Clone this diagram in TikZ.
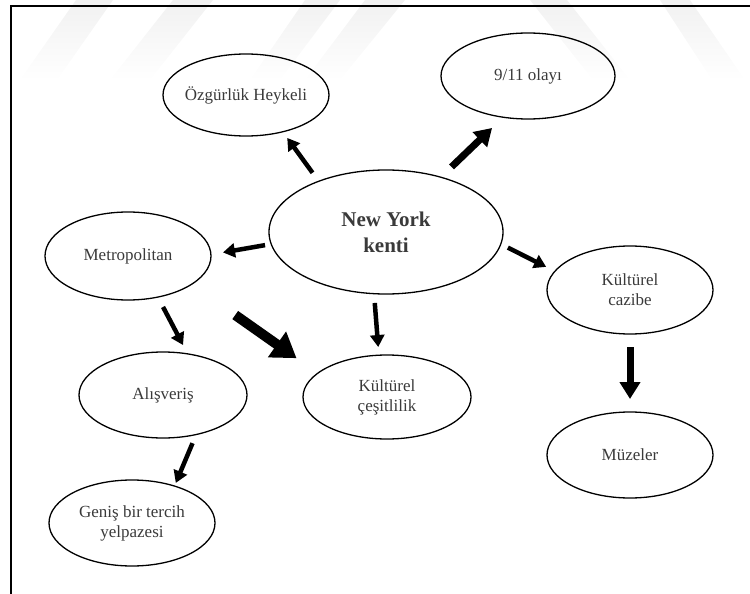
\documentclass[tikz,border=0pt]{standalone}
\usepackage{fontspec}
\setmainfont{Liberation Serif}
\usetikzlibrary{arrows.meta,shapes.geometric}
\definecolor{inktext}{HTML}{3A3A3A}
\begin{document}
\begin{tikzpicture}[x=1pt,y=-1pt,
  bubble/.style={ellipse, draw=black, line width=1.3pt, inner xsep=-30pt,
    inner ysep=0pt, outer sep=0pt, text=inktext, align=center,
    font=\fontsize{17}{20}\selectfont},
  hub/.style={bubble, font=\fontsize{21}{26}\selectfont\bfseries},
  arrthin/.style={line width=4.5pt, -{Triangle[length=12pt,width=14pt]}},
  arrmid/.style={line width=7pt, -{Triangle[length=17pt,width=20pt]}},
  arrheavy/.style={line width=10pt, -{Triangle[length=24pt,width=30pt]}},
  stripe/.style={top color=gray!11, bottom color=white, draw=none}]
\useasboundingbox (0,0) rectangle (750,594);

% faint background stripes along the top edge
\shade[stripe] (20,80) -- (57,80) -- (113,0) -- (76,0) -- cycle;
\shade[stripe] (110,80) -- (150,80) -- (213,0) -- (173,0) -- cycle;
\shade[stripe] (250,80) -- (280,80) -- (340,0) -- (305,0) -- cycle;
\shade[stripe] (305,80) -- (340,80) -- (405,0) -- (365,0) -- cycle;
\shade[stripe] (530,0) -- (567,0) -- (630,80) -- (593,80) -- cycle;
\shade[stripe] (660,0) -- (690,0) -- (745,80) -- (712,80) -- cycle;

% frame
\draw[line width=2pt] (752,6) -- (11,6) -- (11,596);

% nodes
\node[hub, minimum width=234pt, minimum height=124pt] (ny) at (386,232) {New York\\kenti};
\node[bubble, minimum width=166pt, minimum height=82pt] (oz) at (246,95) {Özgürlük Heykeli};
\node[bubble, minimum width=174pt, minimum height=86pt] (nine) at (528,76) {9/11 olayı};
\node[bubble, minimum width=166pt, minimum height=88pt] (metro) at (128,256) {Metropolitan};
\node[bubble, minimum width=168pt, minimum height=86pt] (alis) at (163,395) {Alışveriş};
\node[bubble, minimum width=168pt, minimum height=84pt] (cesit) at (387,397) {Kültürel\\çeşitlilik};
\node[bubble, minimum width=166pt, minimum height=88pt] (caz) at (630,290) {Kültürel\\cazibe};
\node[bubble, minimum width=166pt, minimum height=86pt] (muz) at (630,455) {Müzeler};
\node[bubble, minimum width=166pt, minimum height=86pt] (genis) at (132,523) {Geniş bir tercih\\yelpazesi};

% connectors
\draw[arrthin, shorten <=10.5pt, shorten >=7.6pt] (ny.143) -- (oz.-45);
\draw[arrmid, shorten <=14.9pt, shorten >=15.5pt] (ny.45) -- (nine.-121);
\draw[arrthin, shorten <=6.3pt, shorten >=12.2pt] (ny.186) -- (metro.1);
\draw[arrthin, shorten <=7.9pt, shorten >=9.8pt] (ny.-6) -- (caz.166);
\draw[arrthin, shorten <=9.3pt, shorten >=8.2pt] (ny.-101) -- (cesit.101);
\draw[arrthin, shorten <=11.2pt, shorten >=10pt] (metro.-54) -- (alis.59);
\draw[arrheavy, shorten <=53.4pt, shorten >=26pt] (metro.-24) -- (cesit.161);
\draw[arrmid, shorten <=13pt, shorten >=13pt] (caz.south) -- (muz.north);
\draw[arrthin, shorten <=9.4pt, shorten >=3.4pt] (alis.-50) -- (genis.41);
\end{tikzpicture}
\end{document}
